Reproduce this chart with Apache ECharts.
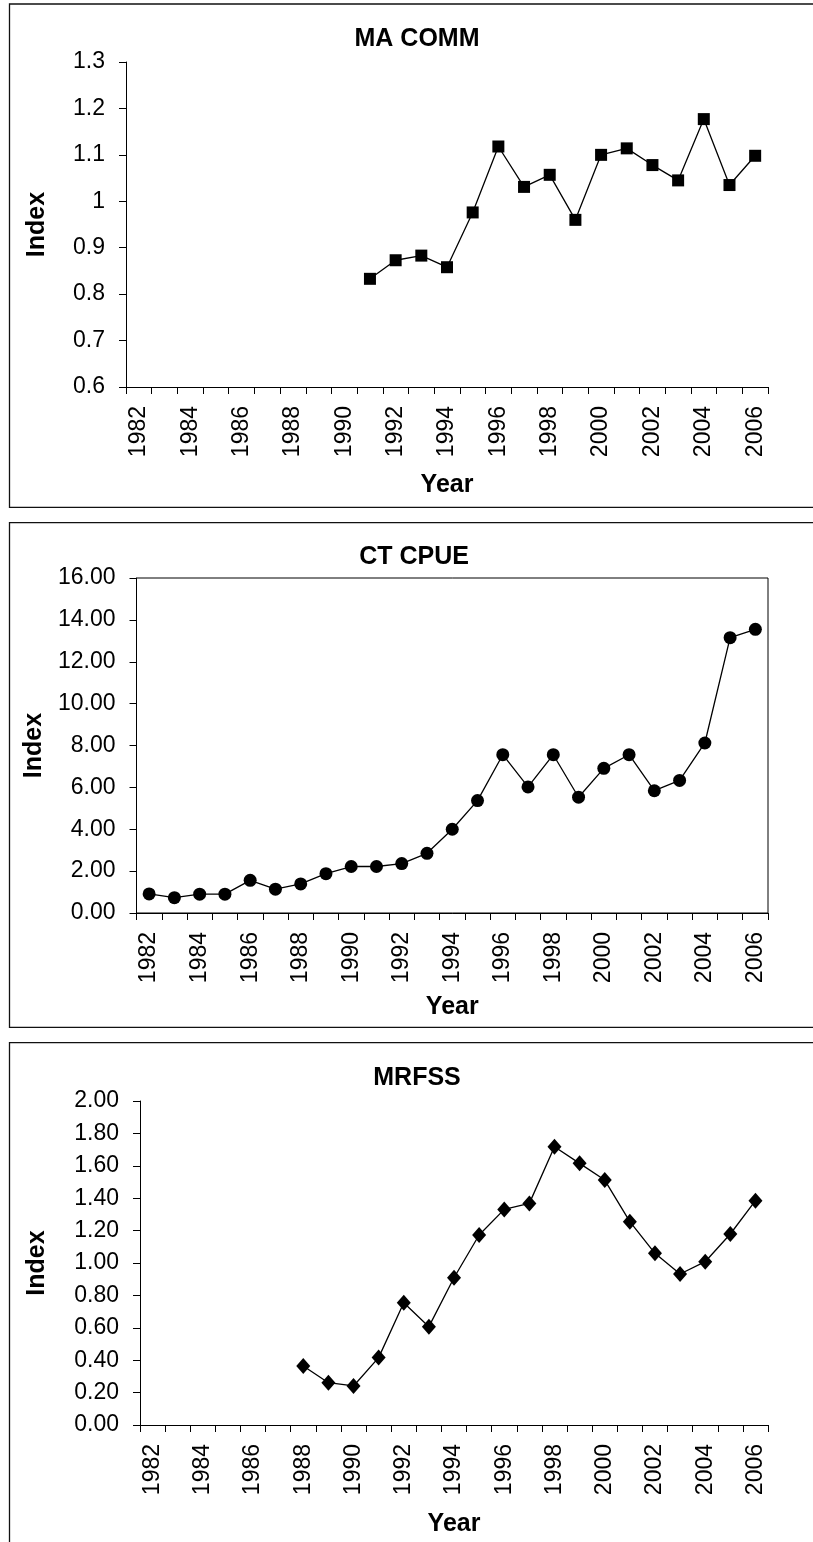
<!DOCTYPE html>
<html>
<head>
<meta charset="utf-8">
<script src="https://cdn.jsdelivr.net/npm/echarts@6/dist/echarts.min.js"></script>
<style>
html,body{margin:0;padding:0;background:#fff;}
#chart{width:813px;height:1542px;}
</style>
</head>
<body>
<div id="chart"></div>
<script>
// ---- data ----
const years = ['1982','1983','1984','1985','1986','1987','1988','1989','1990','1991','1992','1993','1994','1995','1996','1997','1998','1999','2000','2001','2002','2003','2004','2005','2006'];
const titles = ['MA COMM', 'CT CPUE', 'MRFSS'];
const maComm = [null,null,null,null,null,null,null,null,null,0.833,0.873,0.883,0.858,0.976,1.118,1.031,1.057,0.960,1.100,1.114,1.078,1.045,1.177,1.035,1.098];
const ctCpue = [0.91,0.73,0.90,0.90,1.56,1.14,1.39,1.88,2.22,2.22,2.36,2.85,4.00,5.37,7.56,6.02,7.56,5.53,6.91,7.56,5.84,6.33,8.12,13.15,13.55];
const mrfss = [null,null,null,null,null,null,0.364,0.261,0.241,0.416,0.755,0.607,0.909,1.173,1.331,1.368,1.718,1.615,1.512,1.255,1.060,0.932,1.008,1.179,1.385];
const yRanges = [[0.6,1.3,0.1,1],[0,16,2,2],[0,2,0.2,2]];
const symbols = ['rect','circle','diamond'];
const symbolSizes = [12,13,[14,16]];

// ---- layout ----
const FONT = "'Liberation Sans', Arial, sans-serif";
const grids = [
  {left:126, top:62, width:642, height:325},
  {left:136.5, top:578, width:631.5, height:335},
  {left:140, top:1101, width:628, height:324}
];
const seriesData = [maComm, ctCpue, mrfss];
const titlePos = [[417,39],[414,557.5],[417,1078]];
const boxes = [[9.5,4,900,503.3],[9.5,522.7,900,504.6],[9.5,1042.7,900,600]];

const chart = echarts.init(document.getElementById('chart'), null, {renderer:'canvas'});
const option = {
  animation:false,
  backgroundColor:'#fff',
  grid: grids.map((g,i)=>Object.assign({}, g, i===1 ? {show:true, borderColor:'#000', borderWidth:1, backgroundColor:'transparent'} : {})),
  xAxis: grids.map((g,i)=>({
    type:'category', gridIndex:i, data:years, boundaryGap:true,
    name:'Year', nameLocation:'middle', nameGap:[86,82,87][i],
    nameTextStyle:{fontFamily:FONT, fontSize:25, fontWeight:'bold', color:'#000'},
    axisLine:{show:true, lineStyle:{color:'#000', width:1}},
    axisTick:{show:true, interval:0, length:7, lineStyle:{color:'#000', width:1}},
    axisLabel:{interval:1, rotate:90, margin:19, fontFamily:FONT, fontSize:23, color:'#000'},
    splitLine:{show:false}
  })),
  yAxis: grids.map((g,i)=>({
    type:'value', gridIndex:i, min:yRanges[i][0], max:yRanges[i][1], interval:yRanges[i][2],
    name:'Index', nameLocation:'middle', nameGap:[76,86,90][i], nameRotate:90,
    nameTextStyle:{fontFamily:FONT, fontSize:25, fontWeight:'bold', color:'#000'},
    axisLine:{show:true, lineStyle:{color:'#000', width:1}},
    axisTick:{show:true, length:7, lineStyle:{color:'#000', width:1}},
    axisLabel:{margin:21, fontFamily:FONT, fontSize:23, color:'#000',
      formatter:(v)=> i===0 ? String(parseFloat(v.toFixed(1))) : v.toFixed(2)},
    splitLine:{show:false}
  })),
  series: seriesData.map((d,i)=>({
    type:'line', xAxisIndex:i, yAxisIndex:i, data:d,
    symbol:symbols[i], symbolSize:symbolSizes[i], showSymbol:true,
    itemStyle:{color:'#000'}, lineStyle:{color:'#000', width:1.3}
  })),
  graphic: [
    ...boxes.map(b=>({type:'rect', shape:{x:b[0], y:b[1], width:b[2], height:b[3]}, style:{fill:'none', stroke:'#111', lineWidth:1.3}, silent:true})),
    ...titles.map((t,i)=>({type:'text', x:titlePos[i][0], y:titlePos[i][1],
      style:{text:t, fill:'#000', font:"bold 25px " + FONT, textAlign:'center', textVerticalAlign:'middle'}}))
  ]
};
chart.setOption(option);
</script>
</body>
</html>
